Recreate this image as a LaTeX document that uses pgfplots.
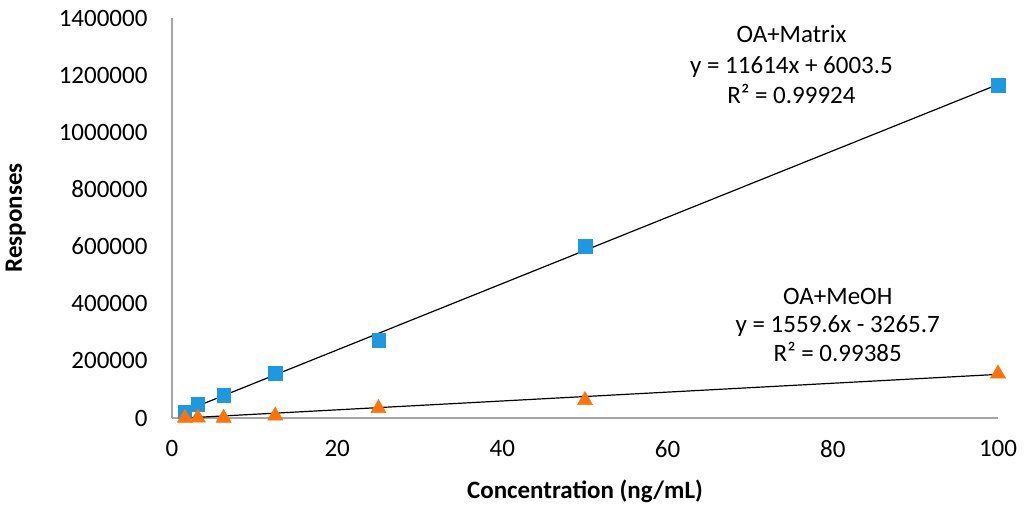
\documentclass[border=0pt]{standalone}
\usepackage{pgfplots}
\pgfplotsset{compat=1.18}
\usepackage{fontspec}
\setmainfont{Carlito}
\definecolor{sqblue}{RGB}{30,152,222}
\definecolor{triorange}{RGB}{255,115,10}
\definecolor{axgray}{RGB}{165,165,165}
\begin{document}
\fontsize{25bp}{29bp}\selectfont
\begin{tikzpicture}[x=1bp,y=1bp]
\useasboundingbox (-172bp,-90bp) rectangle (852bp,418bp);
\begin{axis}[
  at={(0,0)}, anchor=south west,
  scale only axis, width=826bp, height=400bp,
  xmin=0, xmax=100, ymin=0, ymax=1400000,
  axis lines=left, axis line style={axgray, line width=1.3bp, -},
  xtick={0,20,40,60,80,100},
  ytick={0,200000,400000,600000,800000,1000000,1200000,1400000},
  major tick length=0pt,
  scaled y ticks=false,
  /pgf/number format/assume math mode=true,
  yticklabel style={/pgf/number format/fixed, /pgf/number format/1000 sep={}, font=\fontsize{25bp}{29bp}\selectfont, xshift=-16bp},
  xticklabel style={font=\fontsize{25bp}{29bp}\selectfont, yshift=-14bp},
  xlabel={\textbf{Concentration (ng/mL)}},
  ylabel={\textbf{Responses}},
  label style={font=\fontsize{25bp}{29bp}\selectfont},
  xlabel style={yshift=-5bp},
  ylabel style={yshift=16bp},
  clip=false,
]
\addplot[black, line width=1.2bp] coordinates {(1.5625,24150) (100,1167403)};
\addplot[black, line width=1.2bp] coordinates {(1.5625,0) (100,152694)};
\addplot[only marks, mark=square*, mark size=6.7bp, mark options={fill=sqblue, draw=sqblue}] coordinates {
(1.5625,22000) (3.125,49000) (6.25,80500) (12.5,157000) (25,273000) (50,602000) (100,1165500)};
\addplot[only marks, mark=triangle*, mark size=8.8bp, mark options={fill=triorange, draw=triorange}] coordinates {
(1.5625,0) (3.125,1000) (6.25,0) (12.5,8000) (25,34000) (50,62000) (100,155000)};
\node[align=center, font=\fontsize{25bp}{30.5bp}\selectfont] at (axis cs:75,1237000) {OA+Matrix\\y = 11614x + 6003.5\\R² = 0.99924};
\node[align=center, font=\fontsize{25bp}{28.5bp}\selectfont] at (axis cs:80.6,326000) {OA+MeOH\\y = 1559.6x - 3265.7\\R² = 0.99385};
\end{axis}
\end{tikzpicture}
\end{document}
